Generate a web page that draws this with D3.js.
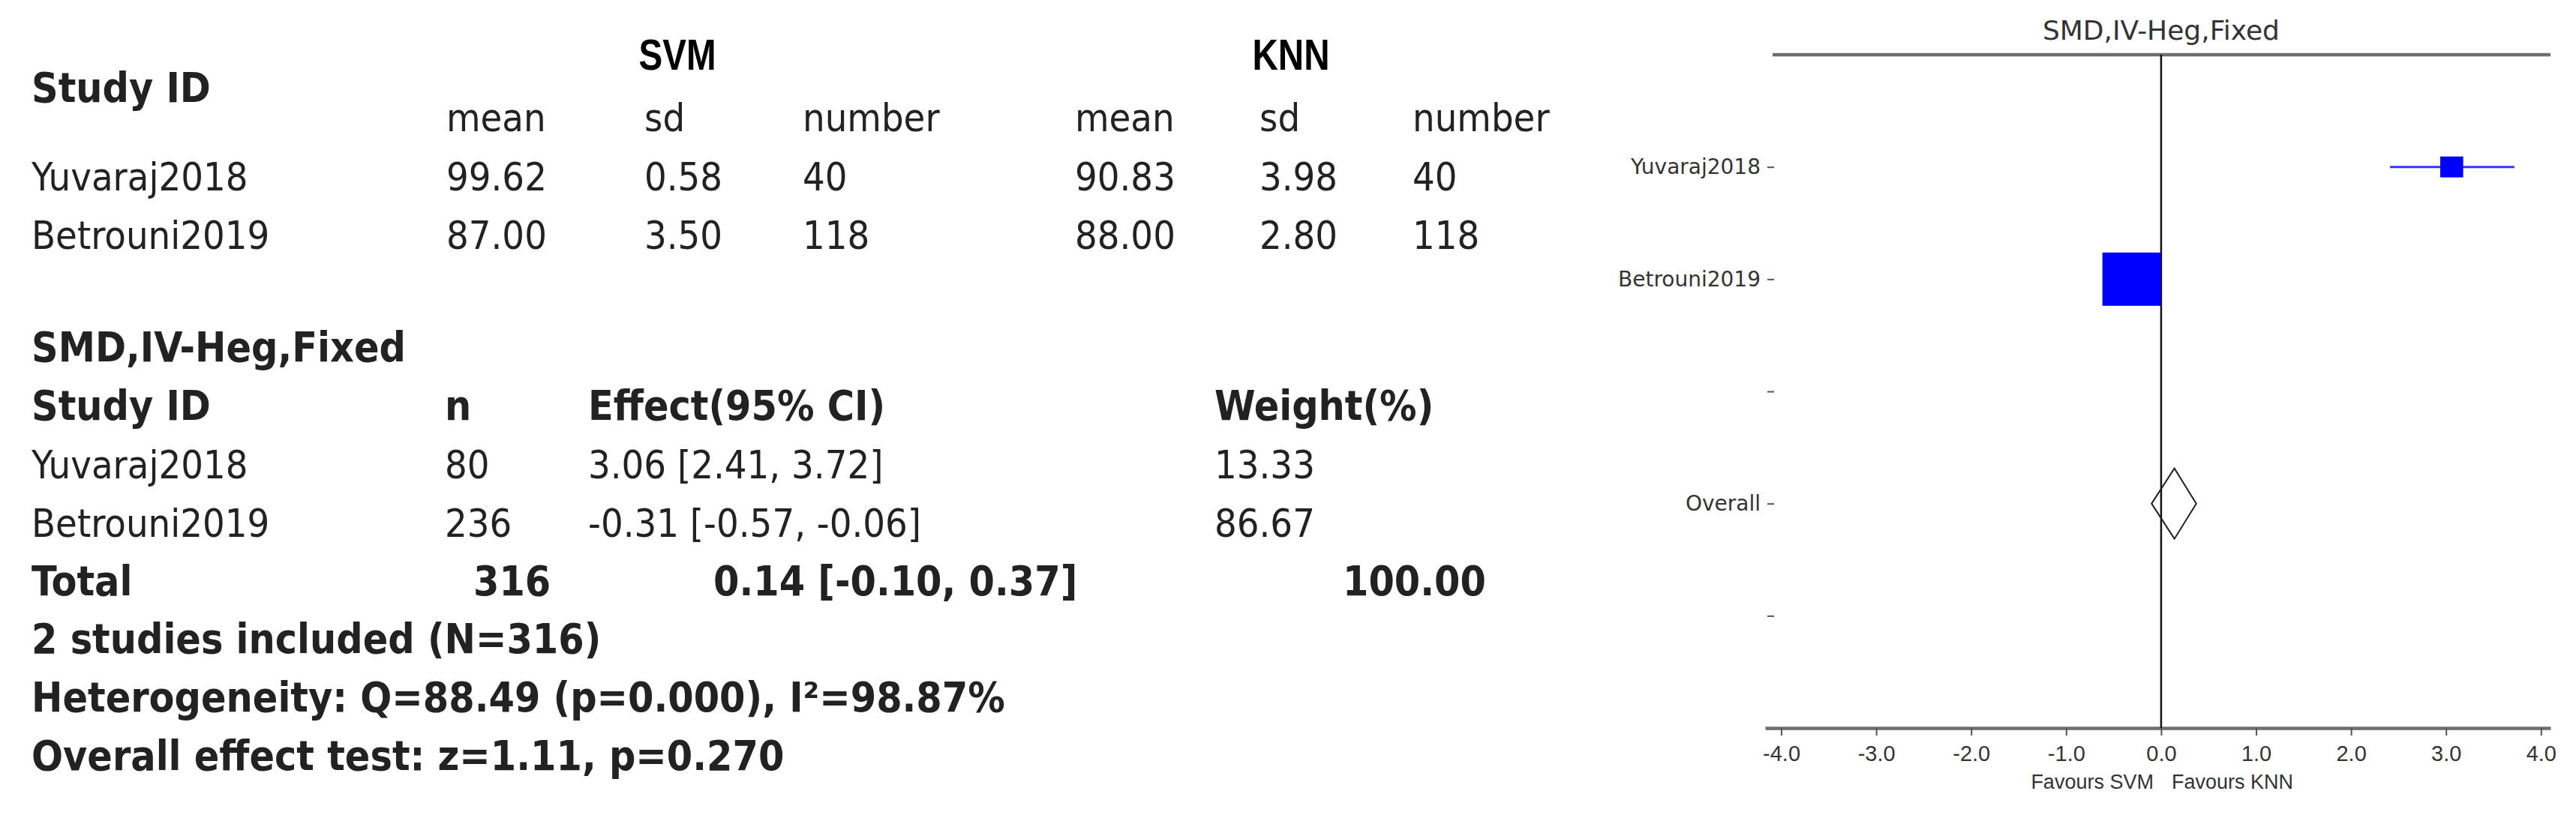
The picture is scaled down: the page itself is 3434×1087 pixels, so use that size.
<!DOCTYPE html>
<html><head><meta charset="utf-8">
<script src="https://cdn.jsdelivr.net/npm/d3@7"></script>
<style>body{margin:0;background:#fff;} svg{display:block}</style>
</head><body>
<svg id="chart" width="3434" height="1087"></svg>
<script>
// ---------------- data ----------------
const groups = ["SVM", "KNN"];
const statCols = ["mean", "sd", "number"];
const studies = ["Yuvaraj2018", "Betrouni2019"];
const svmMean = ["99.62", "87.00"];
const svmSd = ["0.58", "3.50"];
const svmN = ["40", "118"];
const knnMean = ["90.83", "88.00"];
const knnSd = ["3.98", "2.80"];
const knnN = ["40", "118"];

const methodTitle = "SMD,IV-Heg,Fixed";
const resultHeaders = ["Study ID", "n", "Effect(95% CI)", "Weight(%)"];
const nTotal = [80, 236];
const effect = [3.06, -0.31];
const ciLow = [2.41, -0.57];
const ciHigh = [3.72, -0.06];
const weight = [13.33, 86.67];
const overallN = 316;
const overallEffect = [0.14, -0.10, 0.37]; // effect, low, high
const overallWeight = 100.00;
const summaryLines = [
  "2 studies included (N=316)",
  "Heterogeneity: Q=88.49 (p=0.000), I\u00b2=98.87%",
  "Overall effect test: z=1.11, p=0.270"
];

const yKeys = ["Yuvaraj2018", "Betrouni2019", "gap1", "Overall", "gap2"];
const yLabels = ["Yuvaraj2018", "Betrouni2019", "", "Overall", ""];
const xTicks = [-4, -3, -2, -1, 0, 1, 2, 3, 4];
const xTickLabels = ["-4.0", "-3.0", "-2.0", "-1.0", "0.0", "1.0", "2.0", "3.0", "4.0"];
const favourLabels = ["Favours SVM", "Favours KNN"];

// ---------------- drawing ----------------
(function () {
const svg = d3.select("#chart");
const TXT = "#222";
const REG = "'DejaVu Sans Condensed','DejaVu Sans',sans-serif";
const ARIAL = "'Liberation Sans',Arial,sans-serif";

function txt(g, x, y, s, opt = {}) {
  return g.append("text")
    .attr("x", x).attr("y", y)
    .attr("font-family", opt.family || REG)
    .attr("font-stretch", "condensed")
    .attr("font-weight", opt.bold ? "bold" : "normal")
    .attr("font-size", opt.size || 52)
    .attr("fill", opt.fill || TXT)
    .attr("text-anchor", opt.anchor || "start")
    .text(s);
}

// ---- table 1: descriptive ----
const t1 = svg.append("g");
const y1 = d3.scaleLinear().domain([0, 2]).range([175, 332]);
const col1 = d3.scaleOrdinal().domain(["id", "m1", "s1", "n1", "m2", "s2", "n2"])
  .range([42, 595, 859, 1070, 1433, 1679, 1883]);
const groupX = d3.scaleOrdinal().domain(groups).range([903, 1721]);

groups.forEach(gname => t1.append("text")
  .attr("transform", `translate(${groupX(gname)},${y1(-1.05)}) scale(0.82,1)`)
  .attr("font-family", ARIAL).attr("font-weight", "bold").attr("font-size", 58)
  .attr("fill", "#000").attr("text-anchor", "middle").text(gname));
txt(t1, col1("id"), y1(-0.5), "Study ID", {bold: true, size: 55});
["1", "2"].forEach(k => {
  txt(t1, col1("m" + k), y1(0), statCols[0]);
  txt(t1, col1("s" + k), y1(0), statCols[1]);
  txt(t1, col1("n" + k), y1(0), statCols[2]);
});
studies.forEach((s, i) => {
  const yy = y1(i + 1);
  txt(t1, col1("id"), yy, s);
  txt(t1, col1("m1"), yy, svmMean[i]);
  txt(t1, col1("s1"), yy, svmSd[i]);
  txt(t1, col1("n1"), yy, svmN[i]);
  txt(t1, col1("m2"), yy, knnMean[i]);
  txt(t1, col1("s2"), yy, knnSd[i]);
  txt(t1, col1("n2"), yy, knnN[i]);
});

// ---- table 2: results ----
const t2 = svg.append("g");
const y2 = d3.scaleLinear().domain([0, 6]).range([560, 1027]);
const col2 = [42, 593, 784, 1619];
const colTot = [42, 631, 951, 1790];
const f2 = d3.format(".2f");
const fmtCI = (e, l, h) => `${f2(e)} [${f2(l)}, ${f2(h)}]`.replace(/\u2212/g, "-");

txt(t2, col2[0], y2(-1), methodTitle, {bold: true, size: 55});
resultHeaders.forEach((h, j) => txt(t2, col2[j], y2(0), h, {bold: true, size: 55}));
studies.forEach((s, i) => {
  const yy = y2(i + 1);
  txt(t2, col2[0], yy, s);
  txt(t2, col2[1], yy, String(nTotal[i]));
  txt(t2, col2[2], yy, fmtCI(effect[i], ciLow[i], ciHigh[i]));
  txt(t2, col2[3], yy, f2(weight[i]));
});
txt(t2, colTot[0], y2(3), "Total", {bold: true, size: 55});
txt(t2, colTot[1], y2(3), String(overallN), {bold: true, size: 55});
txt(t2, colTot[2], y2(3), fmtCI(overallEffect[0], overallEffect[1], overallEffect[2]), {bold: true, size: 55});
txt(t2, colTot[3], y2(3), f2(overallWeight), {bold: true, size: 55});
summaryLines.forEach((l, k) => txt(t2, col2[0], y2(4 + k), l, {bold: true, size: 55}));

// ---- forest plot ----
const fp = svg.append("g");
const fx = d3.scaleLinear().domain([-4.17, 4.10]).range([2353, 3400]);
const fy = d3.scalePoint().domain(yKeys).range([73, 971]).padding(1);
const sizeW = d3.scaleSqrt().domain([0, 100]).range([0, 83.8]);
const sizeH = d3.scaleSqrt().domain([0, 100]).range([0, 76.3]);
const [yTop, yBot] = fy.range();

fp.append("text").attr("x", fx(0)).attr("y", 53)
  .attr("font-family", "'DejaVu Sans',sans-serif").attr("font-size", 36)
  .attr("fill", "#333").attr("text-anchor", "middle").text(methodTitle);

fp.append("line").attr("x1", fx.range()[0] + 10).attr("x2", fx.range()[1])
  .attr("y1", yTop).attr("y2", yTop).attr("stroke", "#6e6e6e").attr("stroke-width", 4.5);

const xAxis = d3.axisBottom(fx).tickValues(xTicks)
  .tickFormat((d, i) => xTickLabels[i]).tickSize(10).tickPadding(13).tickSizeOuter(0);
const gx = fp.append("g").attr("transform", `translate(0,${yBot})`).call(xAxis);
gx.select(".domain").attr("stroke", "#6e6e6e").attr("stroke-width", 4.5);
gx.selectAll(".tick line").attr("stroke", "#555").attr("stroke-width", 2);
gx.selectAll(".tick text").attr("font-family", ARIAL)
  .attr("font-size", 29).attr("fill", "#333");

const yAxis = d3.axisLeft(fy).tickFormat((d, i) => yLabels[i]).tickSize(9).tickPadding(9);
const gy = fp.append("g").attr("transform", `translate(${fx.range()[0] + 12},0)`).call(yAxis);
gy.select(".domain").remove();
gy.selectAll(".tick line").attr("stroke", "#555").attr("stroke-width", 2);
gy.selectAll(".tick text").attr("font-family", "'DejaVu Sans',sans-serif")
  .attr("font-size", 28).attr("fill", "#333");

fp.append("line").attr("x1", fx(0)).attr("x2", fx(0)).attr("y1", yTop).attr("y2", yBot)
  .attr("stroke", "#111").attr("stroke-width", 2.5);

studies.forEach((s, i) => {
  const cy = fy(s);
  fp.append("line").attr("x1", fx(ciLow[i])).attr("x2", fx(ciHigh[i]))
    .attr("y1", cy).attr("y2", cy).attr("stroke", "#3535ff").attr("stroke-width", 3);
  const w = sizeW(weight[i]), h = sizeH(weight[i]);
  fp.append("rect").attr("x", fx(effect[i]) - w / 2).attr("y", cy - h / 2)
    .attr("width", w).attr("height", h).attr("fill", "#0000ff");
});

const dyc = fy("Overall"), dh = 47;
fp.append("path")
  .attr("d", d3.line()([[fx(overallEffect[1]), dyc], [fx(overallEffect[0]), dyc - dh],
    [fx(overallEffect[2]), dyc], [fx(overallEffect[0]), dyc + dh]]) + "Z")
  .attr("fill", "none").attr("stroke", "#222").attr("stroke-width", 2);

fp.append("text").attr("x", fx(0) - 10).attr("y", 1052)
  .attr("font-family", ARIAL).attr("font-size", 27).attr("fill", "#333")
  .attr("text-anchor", "end").text(favourLabels[0]);
fp.append("text").attr("x", fx(0) + 14).attr("y", 1052)
  .attr("font-family", ARIAL).attr("font-size", 27).attr("fill", "#333")
  .attr("text-anchor", "start").text(favourLabels[1]);
})();
</script>
</body></html>
